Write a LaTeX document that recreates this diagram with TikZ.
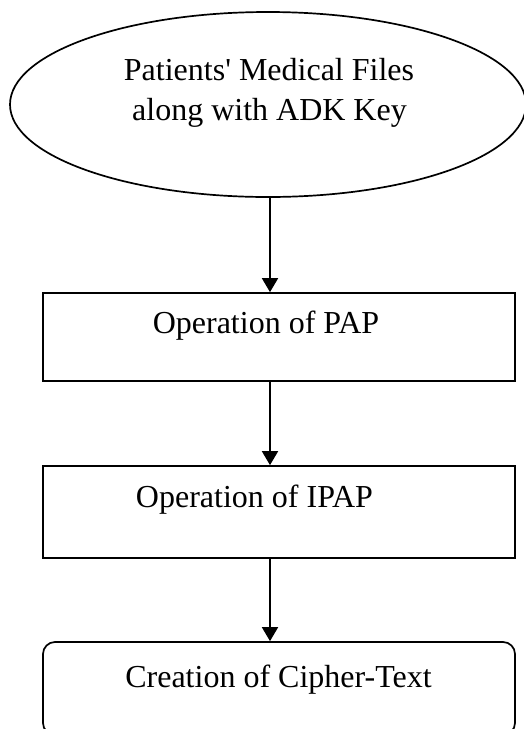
\documentclass[tikz,border=0pt]{standalone}
\usepackage{fontspec}
\setmainfont{Liberation Serif}
\usetikzlibrary{shapes.geometric,arrows.meta}
\begin{document}
\begin{tikzpicture}[x=1pt,y=-1pt,
  shapeline/.style={draw=black,line width=1.7pt,inner sep=0pt},
  stepbox/.style={shapeline,rectangle,minimum width=472pt},
  caption/.style={anchor=base,inner sep=0pt,font=\fontsize{32}{38}\selectfont},
  arr/.style={line width=1.8pt,-{Triangle[width=16pt,length=14pt]}}]
  \useasboundingbox (0,0) rectangle (523,729);

  % shapes
  \node[shapeline,ellipse,minimum width=516pt,minimum height=185pt] (src) at (268,104.5) {};
  \node[stepbox,minimum height=88pt] (pap) at (279,337) {};
  \node[stepbox,minimum height=92pt] (ipap) at (279,512) {};
  \node[stepbox,minimum height=93pt,rounded corners=12pt] (out) at (279,688.5) {};

  % texts
  \node[caption] (t1) at (269,80) {Patients\textquotesingle{} Medical Files};
  \node[caption] (t2) at (269.5,120) {along with ADK Key};
  \node[caption] (t3) at (266,333) {Operation of PAP};
  \node[caption] (t4) at (254.5,507) {Operation of IPAP};
  \node[caption] (t5) at (278.5,687) {Creation of Cipher-Text};

  % connectors
  \coordinate (col) at (270,0);
  \draw[arr] (src.south -| col) -- (pap.north -| col);
  \draw[arr] (pap.south -| col) -- (ipap.north -| col);
  \draw[arr] (ipap.south -| col) -- (out.north -| col);
\end{tikzpicture}
\end{document}
